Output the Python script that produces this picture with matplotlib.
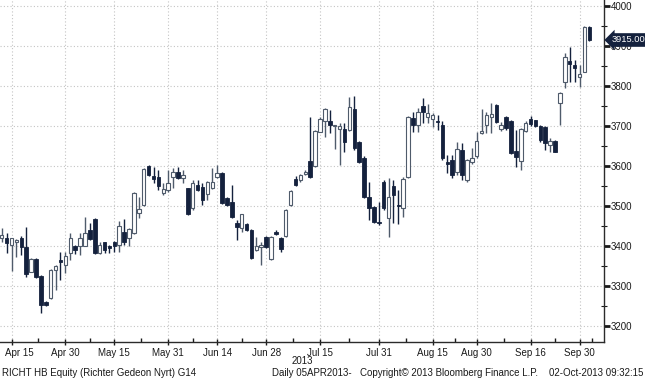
import matplotlib
matplotlib.use("Agg")
import matplotlib.pyplot as plt
import matplotlib.transforms as mtransforms
import numpy as np
import pandas as pd

plt.rcParams['font.family'] = ['Liberation Sans', 'DejaVu Sans']

# trading days shown (Budapest holidays dropped)
holidays = ['2013-05-01', '2013-05-20', '2013-08-19', '2013-08-20']
dates = pd.bdate_range('2013-04-11', '2013-10-02')
dates = dates[~dates.isin(pd.to_datetime(holidays))]

# daily OHLC
opens = [3420, 3421, 3402, 3410, 3421, 3398, 3336, 3368, 3325, 3261,
         3270, 3340, 3365, 3352, 3382, 3401, 3401, 3401, 3440, 3467,
         3382, 3409, 3400, 3409, 3402, 3436, 3420, 3432, 3482, 3502,
         3601, 3576, 3572, 3532, 3540, 3572, 3586, 3569, 3544, 3494,
         3552, 3547, 3530, 3544, 3573, 3582, 3520, 3511, 3457, 3444,
         3455, 3440, 3390, 3398, 3422, 3367, 3436, 3421, 3425, 3502,
         3567, 3565, 3581, 3612, 3600, 3686, 3713, 3713, 3700, 3692,
         3692, 3690, 3742, 3661, 3619, 3523, 3497, 3461, 3561, 3469,
         3550, 3503, 3494, 3573, 3719, 3702, 3750, 3722, 3717, 3711,
         3702, 3609, 3615, 3586, 3640, 3565, 3609, 3625, 3682, 3702,
         3722, 3752, 3692, 3722, 3713, 3638, 3613, 3688, 3717, 3714,
         3700, 3698, 3652, 3662, 3757, 3811, 3862, 3852, 3822, 3836,
         3948]
highs = [3445, 3432, 3420, 3418, 3425, 3447, 3370, 3370, 3327, 3263,
         3342, 3352, 3386, 3386, 3433, 3403, 3432, 3472, 3457, 3469,
         3410, 3411, 3402, 3412, 3463, 3467, 3444, 3535, 3523, 3596,
         3603, 3598, 3590, 3557, 3590, 3594, 3598, 3590, 3546, 3565,
         3565, 3557, 3563, 3595, 3602, 3584, 3522, 3552, 3465, 3480,
         3458, 3442, 3423, 3410, 3425, 3425, 3440, 3423, 3492, 3540,
         3575, 3580, 3590, 3723, 3690, 3723, 3745, 3740, 3702, 3707,
         3707, 3773, 3775, 3663, 3625, 3561, 3500, 3511, 3565, 3570,
         3565, 3540, 3573, 3724, 3736, 3745, 3770, 3755, 3733, 3727,
         3712, 3627, 3627, 3661, 3657, 3617, 3645, 3686, 3742, 3736,
         3757, 3755, 3710, 3724, 3715, 3690, 3694, 3712, 3725, 3716,
         3702, 3700, 3670, 3664, 3785, 3883, 3898, 3865, 3852, 3950,
         3950]
lows = [3410, 3382, 3338, 3373, 3377, 3323, 3334, 3320, 3232, 3250,
        3268, 3290, 3315, 3332, 3365, 3380, 3377, 3399, 3415, 3380,
        3380, 3382, 3382, 3385, 3386, 3402, 3400, 3430, 3470, 3500,
        3575, 3557, 3540, 3527, 3536, 3544, 3567, 3557, 3478, 3490,
        3538, 3502, 3515, 3542, 3571, 3505, 3500, 3470, 3415, 3436,
        3438, 3367, 3388, 3352, 3395, 3365, 3427, 3385, 3423, 3500,
        3550, 3560, 3578, 3570, 3598, 3684, 3673, 3682, 3642, 3602,
        3636, 3688, 3640, 3608, 3520, 3465, 3458, 3452, 3490, 3422,
        3457, 3455, 3473, 3571, 3686, 3686, 3707, 3707, 3697, 3690,
        3615, 3582, 3570, 3577, 3565, 3560, 3605, 3620, 3680, 3682,
        3682, 3708, 3688, 3690, 3630, 3597, 3590, 3686, 3700, 3698,
        3660, 3640, 3636, 3634, 3702, 3794, 3811, 3811, 3797, 3834,
        3913]
closes = [3428, 3407, 3420, 3415, 3397, 3330, 3368, 3322, 3252, 3252,
          3340, 3350, 3359, 3375, 3420, 3390, 3420, 3432, 3417, 3382,
          3402, 3390, 3396, 3401, 3450, 3411, 3442, 3532, 3492, 3592,
          3577, 3567, 3550, 3542, 3557, 3586, 3569, 3577, 3480, 3557,
          3540, 3515, 3561, 3561, 3582, 3507, 3502, 3473, 3448, 3480,
          3440, 3369, 3401, 3402, 3397, 3423, 3430, 3392, 3490, 3538,
          3552, 3577, 3584, 3572, 3688, 3717, 3742, 3702, 3702, 3701,
          3661, 3747, 3644, 3611, 3522, 3494, 3461, 3457, 3494, 3523,
          3527, 3500, 3567, 3722, 3702, 3734, 3736, 3733, 3727, 3710,
          3619, 3605, 3577, 3642, 3577, 3615, 3621, 3663, 3688, 3727,
          3729, 3711, 3702, 3694, 3632, 3622, 3692, 3708, 3704, 3700,
          3665, 3657, 3663, 3636, 3783, 3873, 3855, 3844, 3830, 3948,
          3915]

tick_dates = ['2013-04-15', '2013-04-30', '2013-05-15', '2013-05-31', '2013-06-14', '2013-06-28',
              '2013-07-15', '2013-07-31', '2013-08-15', '2013-08-30', '2013-09-16', '2013-09-30']
tick_labels = ['Apr 15', 'Apr 30', 'May 15', 'May 31', 'Jun 14', 'Jun 28',
               'Jul 15', 'Jul 31', 'Aug 15', 'Aug 30', 'Sep 16', 'Sep 30']

dark = '#14213d'
hollow_edge = '#4f5b6b'
txt = '#1a1a1a'

o = np.array(opens, float)
h = np.array(highs, float)
l = np.array(lows, float)
c = np.array(closes, float)
x = np.arange(len(o))
up = c >= o

fig = plt.figure(figsize=(6.45, 3.80), dpi=100)
ax = fig.add_axes([0, 1 - 342 / 380, 604 / 645, 342 / 380])

# wicks, then bodies on top
ax.vlines(x[up], l[up], h[up], color=hollow_edge, lw=1, zorder=2)
ax.vlines(x[~up], l[~up], h[~up], color=dark, lw=1, zorder=2)
bottom = np.minimum(o, c)
height = np.maximum(np.abs(c - o), 2.5)
w = 0.72
ax.bar(x[up], height[up], bottom=bottom[up], width=w, color='white',
       edgecolor=hollow_edge, linewidth=0.8, zorder=3)
ax.bar(x[~up], height[~up], bottom=bottom[~up], width=w, color=dark,
       edgecolor=dark, linewidth=0.6, zorder=3)

ax.set_xlim(-0.35, 123.0)
ax.set_ylim(3160, 4015)

# x axis: date ticks by trading-day index
tpos = [dates.get_loc(pd.Timestamp(d)) for d in tick_dates]
ax.set_xticks(tpos)
ax.set_xticklabels(tick_labels)
mids = [(a + b) / 2 for a, b in zip(tpos[:-1], tpos[1:])] + [tpos[-1] + 2.5]
ax.set_xticks(mids, minor=True)

ax.yaxis.tick_right()
ax.set_yticks(np.arange(3200, 4001, 100))
ax.set_yticks(np.arange(3250, 4001, 100), minor=True)

ax.tick_params(axis='x', which='major', direction='inout', length=5, width=1,
               labelsize=7, pad=1.5, colors=txt)
ax.tick_params(axis='x', which='minor', direction='in', length=3, width=1, colors=txt)
ax.tick_params(axis='y', which='major', direction='out', length=4, width=2,
               labelsize=7, pad=1, colors=txt)
ax.tick_params(axis='y', which='minor', direction='inout', length=4, width=0.8, colors=txt)

# first date label nudged right so it stays inside the picture
first = ax.get_xticklabels()[0]
first.set_transform(first.get_transform() + mtransforms.ScaledTranslation(8 / 100, 0, fig.dpi_scale_trans))

ax.grid(True, which='major', color='#c4c4c4', linestyle=(0, (1, 2)), lw=0.8)
ax.set_axisbelow(True)

for s in ['left', 'top']:
    ax.spines[s].set_visible(False)
for s in ['right', 'bottom']:
    ax.spines[s].set_color('#2b2b2b')
    ax.spines[s].set_linewidth(1)

# last price tag (covers the 3900 label, as in the terminal screenshot)
ax.text(1.013, closes[-1], '%.2f' % closes[-1], transform=ax.get_yaxis_transform(),
        color='white', fontsize=6.7, va='center', ha='left', clip_on=False, zorder=5,
        bbox=dict(boxstyle='larrow,pad=0.25', fc=dark, ec='none'))

fig.text(302 / 645, 1 - 361 / 380, '2013', ha='center', va='center', fontsize=7, color=txt)

fy = 1 - 373 / 380
fig.text(2 / 645, fy, 'RICHT HB Equity (Richter Gedeon Nyrt) G14', ha='left', va='center', fontsize=7, color=txt)
fig.text(272 / 645, fy, 'Daily 05APR2013-', ha='left', va='center', fontsize=7, color=txt)
fig.text(360 / 645, fy, 'Copyright\u00a9 2013 Bloomberg Finance L.P.', ha='left', va='center', fontsize=7, color=txt)
fig.text(643 / 645, fy, '02-Oct-2013 09:32:15', ha='right', va='center', fontsize=7, color=txt)

fig.savefig('out.png', dpi=100)
